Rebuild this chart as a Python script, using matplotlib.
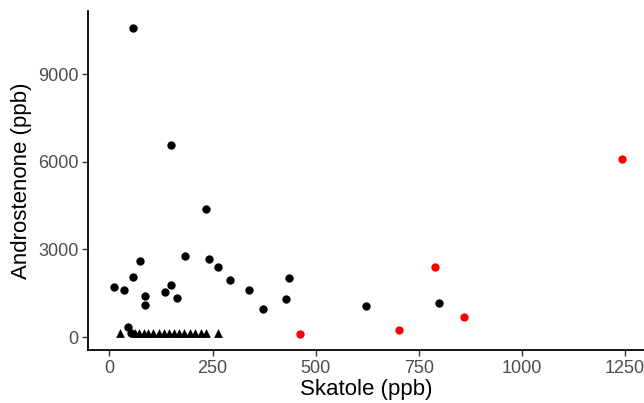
import matplotlib.pyplot as plt

# boars: skatole vs androstenone (ppb)
circ_x = [56, 149, 234, 10, 35, 57, 74, 85, 85, 135, 149, 163, 182, 241, 262,
          292, 338, 373, 427, 435, 622, 800, 46, 52]
circ_y = [10600, 6570, 4370, 1700, 1610, 2060, 2600, 1400, 1090, 1540, 1770, 1345,
          2760, 2660, 2400, 1950, 1600, 950, 1310, 2030, 1050, 1160, 330, 150]

red_x = [463, 702, 789, 860, 1243]
red_y = [100, 250, 2390, 700, 6090]

tri_x = [25, 61, 71, 83, 93, 105, 120, 132, 144, 156, 168, 180, 195, 207, 221, 233, 262]
tri_y = [150, 150, 140, 150, 150, 140, 150, 150, 140, 150, 150, 150, 140, 150, 150, 150, 150]

plt.rcParams['font.family'] = ['Liberation Sans', 'DejaVu Sans']

fig = plt.figure(figsize=(6.44, 4.03), dpi=100)
ax = fig.add_axes([88 / 644, 53 / 403, 1 - 88 / 644, 339 / 403])

ax.scatter(tri_x, tri_y, marker='^', s=40, color='black', linewidths=0, zorder=3)
ax.scatter(circ_x, circ_y, marker='o', s=36, color='black', linewidths=0, zorder=3)
ax.scatter(red_x, red_y, marker='o', s=36, color='#FF0000', linewidths=0, zorder=3)

ax.set_xlim(-52, 1296)
ax.set_ylim(-445, 11170)
ax.set_xticks([0, 250, 500, 750, 1000, 1250])
ax.set_yticks([0, 3000, 6000, 9000])

for side in ['top', 'right']:
    ax.spines[side].set_visible(False)
for side in ['left', 'bottom']:
    ax.spines[side].set_linewidth(1.3)
    ax.spines[side].set_color('black')

ax.tick_params(length=4, width=1, color='#333333', labelcolor='#4D4D4D', labelsize=13, pad=3)
ax.set_xlabel('Skatole (ppb)', fontsize=16, labelpad=2)
ax.set_ylabel('Androstenone (ppb)', fontsize=16, labelpad=4)

fig.savefig('out.png', dpi=100)
